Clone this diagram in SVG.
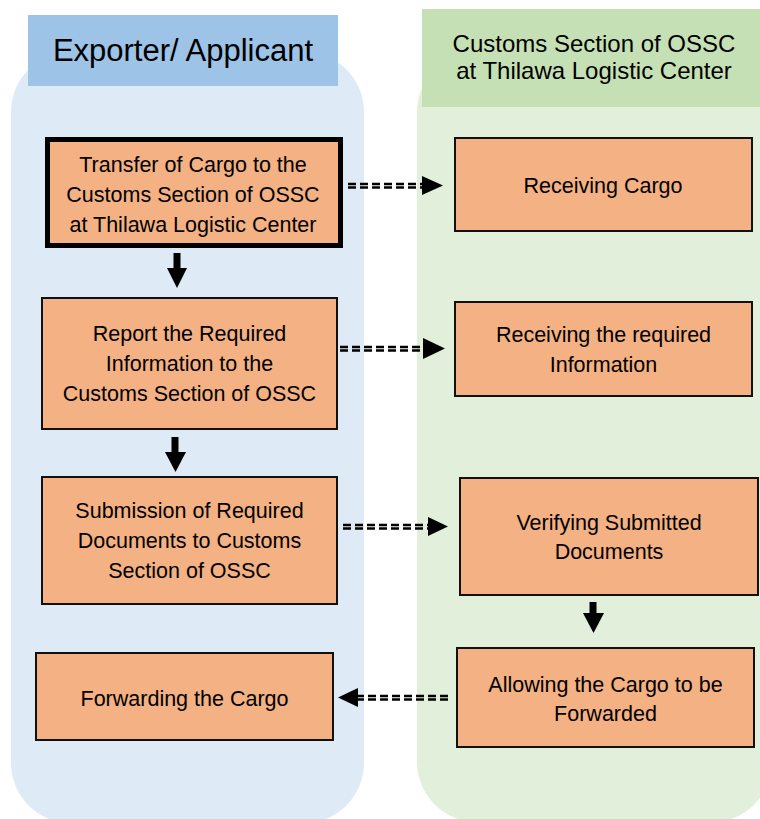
<svg xmlns="http://www.w3.org/2000/svg" width="760" height="819" viewBox="0 0 760 819">
<defs>
<style>
.lane-blue{fill:#DEEBF7;}
.lane-green{fill:#E2EFDA;}
.hdr-blue{fill:#9DC3E6;}
.hdr-green{fill:#C5E0B4;}
.box{fill:#F4B183;stroke:#111;stroke-width:2;}
.box-bold{fill:#F4B183;stroke:#000;stroke-width:5;}
text{font-family:"Liberation Sans",Arial,sans-serif;fill:#000;text-anchor:middle;}
.t{font-size:21.5px;}
.h1{font-size:31px;}
.h2{font-size:24px;}
.dash{stroke:#000;stroke-width:2.5;stroke-dasharray:8 4;fill:none;}
.head{fill:#000;}
.shaft{stroke:#000;stroke-width:7;fill:none;}
</style>
</defs>
<g id="lanes">
<rect class="lane-blue" x="11" y="52" width="353" height="771" rx="60" ry="60"/>
<rect class="lane-green" x="417" y="52" width="355" height="770" rx="60" ry="60"/>
</g>
<g id="header-exporter">
<rect class="hdr-blue" x="28" y="15" width="310" height="71"/>
<text class="h1" x="183" y="61">Exporter/ Applicant</text>
</g>
<g id="header-customs">
<rect class="hdr-green" x="422" y="9" width="338" height="98"/>
<text class="h2" x="594" y="52">Customs Section of OSSC</text>
<text class="h2" x="594" y="79">at Thilawa Logistic Center</text>
</g>
<g id="n1">
<rect class="box-bold" x="47.5" y="139.5" width="293" height="106"/>
<text class="t" x="193" y="172">Transfer of Cargo to the</text>
<text class="t" x="193" y="202">Customs Section of OSSC</text>
<text class="t" x="193" y="232">at Thilawa Logistic Center</text>
</g>
<g id="n2">
<rect class="box" x="455" y="138" width="297" height="93"/>
<text class="t" x="603" y="193">Receiving Cargo</text>
</g>
<g id="n3">
<rect class="box" x="42" y="298" width="295" height="131"/>
<text class="t" x="189.5" y="341">Report the Required</text>
<text class="t" x="189.5" y="371">Information to the</text>
<text class="t" x="189.5" y="401">Customs Section of OSSC</text>
</g>
<g id="n4">
<rect class="box" x="455" y="302" width="297" height="94"/>
<text class="t" x="603.5" y="342">Receiving the required</text>
<text class="t" x="603.5" y="372">Information</text>
</g>
<g id="n5">
<rect class="box" x="42" y="477" width="295" height="127"/>
<text class="t" x="189.5" y="518">Submission of Required</text>
<text class="t" x="189.5" y="548">Documents to Customs</text>
<text class="t" x="189.5" y="578">Section of OSSC</text>
</g>
<g id="n6">
<rect class="box" x="460" y="478" width="298" height="117"/>
<text class="t" x="609" y="530">Verifying Submitted</text>
<text class="t" x="609" y="559">Documents</text>
</g>
<g id="n7">
<rect class="box" x="36" y="653" width="297" height="87"/>
<text class="t" x="184.5" y="706">Forwarding the Cargo</text>
</g>
<g id="n8">
<rect class="box" x="457" y="648" width="297" height="99"/>
<text class="t" x="605.5" y="692">Allowing the Cargo to be</text>
<text class="t" x="605.5" y="721">Forwarded</text>
</g>
<g id="connectors">
<path class="dash" d="M348 184H422M348 187.5H422"/>
<polygon class="head" points="422,176 443,185.5 422,195"/>
<path class="dash" d="M340 347H423M340 350.5H423"/>
<polygon class="head" points="423,338 445,348.5 423,359"/>
<path class="dash" d="M343 525H428M343 528.5H428"/>
<polygon class="head" points="428,517 448,526.5 428,536"/>
<path class="dash" d="M448 696H358M448 699.5H358"/>
<polygon class="head" points="358,688 338,697.5 358,707"/>
<line class="shaft" x1="177" y1="253" x2="177" y2="270"/>
<polygon class="head" points="167,268 187,268 177,288"/>
<line class="shaft" x1="175" y1="437" x2="175" y2="454"/>
<polygon class="head" points="165,452 186,452 175.5,472"/>
<line class="shaft" x1="593" y1="602" x2="593" y2="615"/>
<polygon class="head" points="583,613 604,613 593.5,633"/>
</g>
</svg>
